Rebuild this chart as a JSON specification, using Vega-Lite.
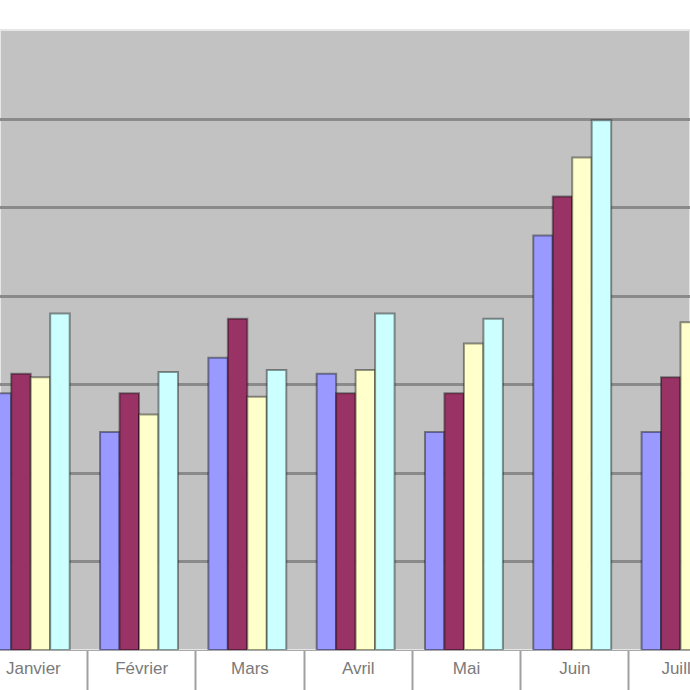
{
  "$schema": "https://vega.github.io/schema/vega-lite/v6.json",
  "width": 690,
  "height": 620,
  "autosize": "none",
  "padding": {"left": 0, "right": 0, "top": 30, "bottom": 40},
  "background": "white",
  "config": {"view": {"fill": "#C2C2C2", "stroke": "#E6E6E6", "strokeWidth": 2}},
  "data": {
    "values": [
      {"mois": "Janvier", "serie": "S1", "valeur": 145},
      {"mois": "Janvier", "serie": "S2", "valeur": 156},
      {"mois": "Janvier", "serie": "S3", "valeur": 154},
      {"mois": "Janvier", "serie": "S4", "valeur": 190},
      {"mois": "Février", "serie": "S1", "valeur": 123},
      {"mois": "Février", "serie": "S2", "valeur": 145},
      {"mois": "Février", "serie": "S3", "valeur": 133},
      {"mois": "Février", "serie": "S4", "valeur": 157},
      {"mois": "Mars", "serie": "S1", "valeur": 165},
      {"mois": "Mars", "serie": "S2", "valeur": 187},
      {"mois": "Mars", "serie": "S3", "valeur": 143},
      {"mois": "Mars", "serie": "S4", "valeur": 158},
      {"mois": "Avril", "serie": "S1", "valeur": 156},
      {"mois": "Avril", "serie": "S2", "valeur": 145},
      {"mois": "Avril", "serie": "S3", "valeur": 158},
      {"mois": "Avril", "serie": "S4", "valeur": 190},
      {"mois": "Mai", "serie": "S1", "valeur": 123},
      {"mois": "Mai", "serie": "S2", "valeur": 145},
      {"mois": "Mai", "serie": "S3", "valeur": 173},
      {"mois": "Mai", "serie": "S4", "valeur": 187},
      {"mois": "Juin", "serie": "S1", "valeur": 234},
      {"mois": "Juin", "serie": "S2", "valeur": 256},
      {"mois": "Juin", "serie": "S3", "valeur": 278},
      {"mois": "Juin", "serie": "S4", "valeur": 299},
      {"mois": "Juillet", "serie": "S1", "valeur": 123},
      {"mois": "Juillet", "serie": "S2", "valeur": 154},
      {"mois": "Juillet", "serie": "S3", "valeur": 185},
      {"mois": "Juillet", "serie": "S4", "valeur": 200}
    ]
  },
  "mark": {"type": "bar", "clip": true, "stroke": "black", "strokeOpacity": 0.4, "strokeWidth": 2},
  "encoding": {
    "x": {
      "field": "mois",
      "type": "nominal",
      "sort": null,
      "scale": {
        "domain": ["Janvier", "Février", "Mars", "Avril", "Mai", "Juin", "Juillet"],
        "range": [-21.3, 736.8],
        "paddingInner": 0,
        "paddingOuter": 0
      },
      "axis": {
        "title": null,
        "tickBand": "extent",
        "ticks": true,
        "tickSize": 40,
        "tickColor": "#A0A0A0",
        "tickWidth": 2,
        "domain": true,
        "domainColor": "#A8A8A8",
        "domainWidth": 1,
        "labelAngle": 0,
        "labelFont": "Liberation Sans",
        "labelFontSize": 17,
        "labelColor": "#7A7A7A",
        "labelPadding": -30,
        "labelBaseline": "top",
        "labelOverlap": false,
        "labelBound": false,
        "grid": false
      }
    },
    "xOffset": {
      "field": "serie",
      "type": "nominal",
      "sort": null,
      "scale": {"paddingInner": 0, "paddingOuter": 0.78, "align": 0.43}
    },
    "y": {
      "field": "valeur",
      "type": "quantitative",
      "scale": {"domain": [0, 350], "nice": false, "zero": true},
      "axis": {
        "title": null,
        "labels": false,
        "ticks": false,
        "domain": false,
        "grid": true,
        "gridColor": "#8A8A8A",
        "gridWidth": 3,
        "values": [50, 100, 150, 200, 250, 300]
      }
    },
    "color": {
      "field": "serie",
      "type": "nominal",
      "scale": {"domain": ["S1", "S2", "S3", "S4"], "range": ["#9999FF", "#993366", "#FFFFCC", "#CCFFFF"]},
      "legend": null
    }
  }
}
